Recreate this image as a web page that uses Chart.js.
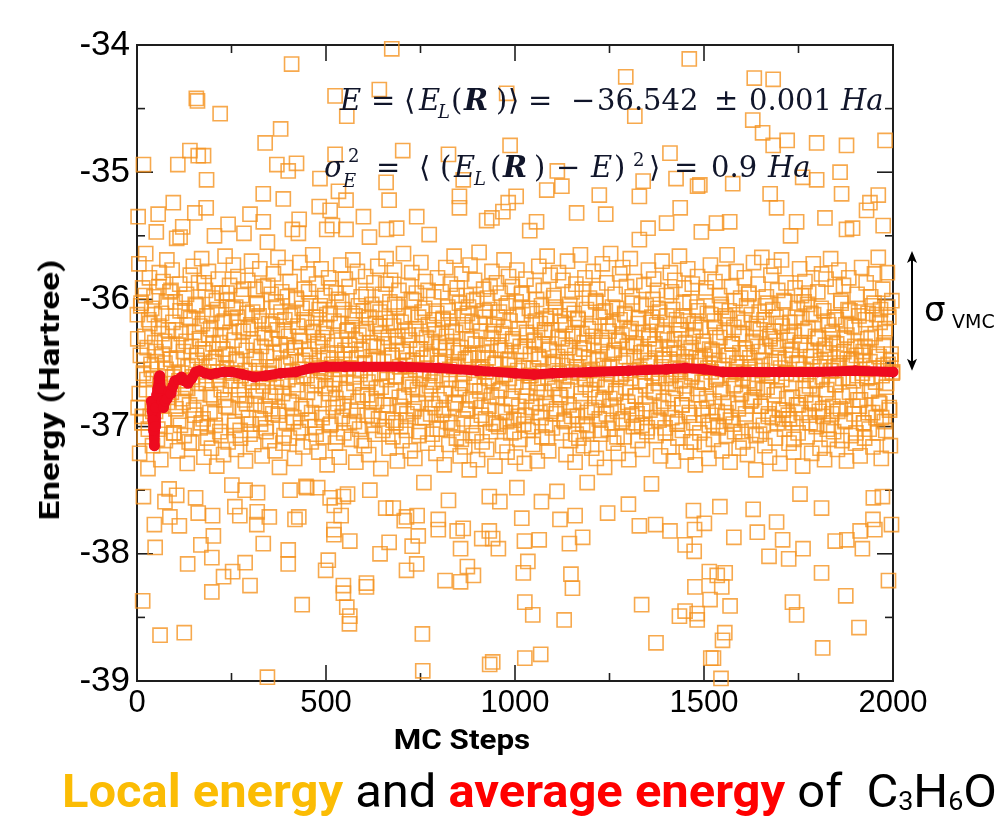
<!DOCTYPE html>
<html>
<head>
<meta charset="utf-8">
<script src="https://cdn.jsdelivr.net/npm/chart.js@4.4.1/dist/chart.umd.min.js"></script>
<style>
body { margin: 0; background: #fff; }
#wrap { position: relative; width: 998px; height: 830px; overflow: hidden; }
#plot { position: absolute; left: 0; top: 0; }
.txt { position: absolute; white-space: pre; line-height: 1; }
.m { position: absolute; white-space: pre; line-height: 1; font-family: "DejaVu Serif", serif; font-size: 29px; color: #10152a; }
.m.s { font-size: 18px; }
.axt { font-family: Roboto, "Noto Sans", sans-serif; font-weight: 700; font-size: 28px; color: #000; }
.cap { font-family: Roboto, "Noto Sans", sans-serif; font-size: 46px; color: #000; transform: scaleX(1.063); transform-origin: left center; }
.cap b { font-weight: 700; }
.cap sub { font-size: 0.55em; vertical-align: -0.12em; }
</style>
</head>
<body>
<div id="wrap">
<canvas id="plot" width="998" height="830"></canvas>

<span class="m" style="left:340px;top:86px"><i>E</i></span>
<span class="m" style="left:371px;top:86px">=</span>
<span class="m" style="left:404px;top:86px">⟨</span>
<span class="m" style="left:419px;top:86px"><i>E</i></span>
<span class="m s" style="left:438px;top:103px"><i>L</i></span>
<span class="m" style="left:451px;top:86px">(</span>
<span class="m" style="left:464px;top:86px"><b><i>R</i></b></span>
<span class="m" style="left:496px;top:86px">)</span>
<span class="m" style="left:508px;top:86px">⟩</span>
<span class="m" style="left:528px;top:86px">=</span>
<span class="m" style="left:571px;top:86px">−</span>
<span class="m" style="left:597px;top:86px">36.542</span>
<span class="m" style="left:714px;top:86px">±</span>
<span class="m" style="left:749px;top:86px">0.001</span>
<span class="m" style="left:841px;top:86px"><i>Ha</i></span>

<span class="m" style="left:324px;top:153px"><i>σ</i></span>
<span class="m s" style="left:348px;top:147px">2</span>
<span class="m s" style="left:343px;top:172px"><i>E</i></span>
<span class="m" style="left:376px;top:153px">=</span>
<span class="m" style="left:419px;top:153px">⟨</span>
<span class="m" style="left:440px;top:153px">(</span>
<span class="m" style="left:454px;top:153px"><i>E</i></span>
<span class="m s" style="left:474px;top:170px"><i>L</i></span>
<span class="m" style="left:490px;top:153px">(</span>
<span class="m" style="left:503px;top:153px"><b><i>R</i></b></span>
<span class="m" style="left:534px;top:153px">)</span>
<span class="m" style="left:556px;top:153px">−</span>
<span class="m" style="left:591px;top:153px"><i>E</i></span>
<span class="m" style="left:614px;top:153px">)</span>
<span class="m s" style="left:633px;top:151px">2</span>
<span class="m" style="left:649px;top:153px">⟩</span>
<span class="m" style="left:674px;top:153px">=</span>
<span class="m" style="left:711px;top:153px">0.9</span>
<span class="m" style="left:768px;top:153px"><i>Ha</i></span>

<div class="txt axt" style="left:462px; top:726px; transform:translateX(-50%) scaleX(1.12);">MC Steps</div>
<div class="txt axt" style="left:50px; top:390px; transform:translate(-50%,-50%) rotate(-90deg) scaleX(1.25);">Energy (Hartree)</div>
<div class="txt" style="left:924px; top:292px; font-family:'DejaVu Sans',sans-serif; font-size:34px;">σ</div>
<div class="txt" style="left:952px; top:312px; font-family:'DejaVu Sans',sans-serif; font-size:19px;">VMC</div>
<div class="txt cap" style="left:62px; top:768px;"><b style="color:#fbbc04">Local energy</b> and <b style="color:#ff0000">average energy</b> of  C<sub>3</sub>H<sub>6</sub>O</div>
</div>
<script>
// outliers: [MC step, local energy]
var outliers = [
	[674,-34.03],[409,-34.15],[157,-34.42],[160,-34.44],[220,-34.54],[641,-34.35],[524,-34.40],[555,-34.56],[380,-34.66],[339,-34.77],
	[140,-34.83],[162,-34.87],[176,-34.87],[17,-34.94],[108,-34.94],[184,-35.06],[370,-34.94],[400,-34.99],[422,-34.93],[524,-34.86],
	[484,-35.05],[703,-34.83],[659,-35.08],[533,-35.15],[553,-35.22],[667,-35.22],[334,-35.17],[387,-35.21],[96,-35.24],[183,-35.28],
	[153,-35.32],[3,-35.35],[56,-35.33],[299,-35.33],[334,-35.39],[241,-35.41],[429,-35.37],[482,-35.27],[511,-35.30],[599,-35.35],
	[740,-35.35],[853,-35.19],[853,-35.28],[824,-34.86],[987,-34.79],[982,-35.24],[925,-35.38],[968,-35.31],[978,-34.38],[863,-35.06],
	[660,-35.45],[687,-35.44],[502,-35.45],[553,-35.45],[427,-35.48],[114,-35.51],[939,-35.36],
	[1461,-34.11],[1293,-34.25],[1633,-34.26],[1683,-34.27],[1317,-34.56],[1629,-34.59],[1655,-34.69],[1683,-34.79],[1720,-34.75],[1798,-34.77],
	[1877,-34.79],[1979,-34.75],[1410,-34.85],[1112,-34.99],[1489,-35.10],[1426,-35.05],[1576,-35.09],[1860,-35.00],[1798,-35.06],[1761,-35.04],
	[1864,-35.17],[1939,-35.24],[1961,-35.18],[1675,-35.17],[1692,-35.28],[1483,-35.11],[1339,-35.07],[1329,-35.19],[1223,-35.18],[1124,-35.11],
	[1084,-35.14],[1003,-35.19],[1163,-35.32],[1240,-35.33],[1437,-35.28],[1533,-35.40],[1568,-35.39],[1745,-35.39],[1820,-35.36],[1930,-35.30],
	[1877,-35.45],[1057,-35.39],[1974,-35.42],[1401,-35.40],[1352,-35.44],
	[345,-38.97],[756,-38.92],[933,-38.87],[941,-38.85],[61,-38.64],[125,-38.62],[755,-38.63],[15,-38.37],[437,-38.40],[563,-38.49],
	[562,-38.55],[555,-38.42],[546,-38.31],[546,-38.25],[607,-38.26],[607,-38.23],[198,-38.30],[299,-38.25],[229,-38.18],[253,-38.14],
	[134,-38.08],[286,-38.07],[198,-38.03],[400,-38.08],[400,-37.97],[506,-38.05],[499,-38.13],[48,-37.95],[169,-37.93],[202,-37.86],
	[334,-37.92],[563,-37.90],[643,-38.00],[667,-37.91],[728,-37.94],[740,-38.08],[713,-38.13],[815,-38.21],[856,-38.22],[890,-38.17],
	[874,-38.10],[856,-37.96],[956,-37.96],[912,-37.88],[941,-37.88],[744,-37.86],[797,-37.81],[863,-37.80],[847,-37.82],[932,-37.82],
	[112,-37.78],[46,-37.77],[87,-37.71],[162,-37.68],[200,-37.70],[272,-37.70],[317,-37.77],[350,-37.71],[418,-37.73],[428,-37.71],
	[540,-37.70],[522,-37.62],[521,-37.81],[521,-37.85],[449,-37.48],[405,-37.50],[286,-37.50],[259,-37.63],[318,-37.67],[74,-37.59],
	[105,-37.54],[17,-37.55],[713,-37.71],[678,-37.64],[658,-37.64],[741,-37.70],[707,-37.74],[797,-37.73],[824,-37.58],[960,-37.59],
	[932,-37.55],[616,-37.50],[546,-37.55],[511,-37.56],[478,-37.48],
	[1545,-38.98],[1525,-38.82],[1518,-38.82],[1026,-38.82],[1068,-38.79],[1373,-38.70],[1549,-38.68],[1555,-38.62],[1814,-38.74],[1910,-38.58],
	[1130,-38.52],[1047,-38.48],[1026,-38.38],[1335,-38.40],[1435,-38.49],[1450,-38.45],[1482,-38.47],[1482,-38.52],[1569,-38.41],[1516,-38.36],
	[1476,-38.26],[1547,-38.26],[1514,-38.14],[1556,-38.15],[1535,-38.17],[1734,-38.38],[1745,-38.48],[1875,-38.33],[1988,-38.21],[1811,-38.15],
	[1148,-38.16],[1152,-38.27],[1022,-38.15],[1034,-38.06],[1025,-37.90],[1064,-37.89],[1144,-37.92],[1179,-37.87],[1119,-37.73],[1159,-37.70],
	[1245,-37.68],[1329,-37.78],[1372,-37.77],[1410,-37.82],[1450,-37.93],[1474,-37.98],[1579,-37.87],[1641,-37.83],[1672,-38.02],[1708,-37.89],
	[1724,-38.04],[1762,-37.96],[1847,-37.90],[1878,-37.89],[1919,-37.96],[1913,-37.82],[1952,-37.81],[1996,-37.77],[1947,-37.73],[1811,-37.64],
	[1692,-37.75],[1630,-37.65],[1501,-37.76],[1475,-37.81],[1472,-37.66],[1542,-37.63],[1300,-37.61],[1070,-37.59],[1018,-37.72],[1005,-37.48],
	[1191,-37.44],[1754,-37.53],[1948,-37.56],[1972,-37.55]
];

// dense band between about -35.5 and -37.5, estimated, one value every 2 steps (steps 1, 3, 5 ...)
var bandEnergy = [
	-36.12,-36.85,-35.72,-37.21,-36.44,-36.03,-36.97,-35.91,-36.58,-37.08,-36.29,-35.64,-36.71,-36.38,-37.33,-36.16,-35.83,-36.92,-36.51,-36.07,
	-37.15,-36.62,-35.98,-36.34,-36.88,-35.47,-36.49,-37.02,-36.21,-35.79,-36.67,-37.26,-36.11,-36.43,-35.86,-36.95,-36.33,-37.11,-36.55,-35.69,
	-36.81,-36.24,-37.49,-35.94,-36.47,-36.73,-35.77,-36.18,-37.05,-36.59,-36.02,-36.86,-35.52,-37.19,-36.36,-36.64,-35.88,-36.99,-36.27,-36.78,
	-35.43,-36.41,-37.07,-36.09,-36.69,-35.96,-37.29,-36.53,-36.14,-36.83,-35.81,-36.37,-37.13,-36.61,-35.74,-36.26,-36.91,-37.56,-36.05,-36.48,
	-36.74,-35.87,-36.31,-37.01,-36.57,-35.68,-36.19,-36.94,-37.24,-36.42,-35.93,-36.66,-36.13,-37.09,-35.78,-36.52,-36.89,-36.23,-37.17,-35.99,
	-36.35,-36.77,-35.50,-36.99,-36.46,-37.31,-36.08,-35.84,-36.63,-37.04,-36.28,-36.71,-35.95,-36.39,-37.22,-36.17,-35.66,-36.84,-36.54,-36.01,
	-37.12,-36.44,-35.89,-36.68,-36.15,-37.46,-36.58,-35.73,-36.32,-36.96,-36.06,-37.18,-36.49,-35.82,-36.75,-36.22,-37.03,-36.60,-35.97,-36.87,
	-36.25,-35.48,-36.79,-37.27,-36.40,-36.11,-35.85,-36.93,-36.56,-37.06,-36.20,-35.70,-36.65,-36.34,-37.14,-36.82,-35.92,-36.47,-36.04,-37.52,
	-36.72,-36.13,-35.76,-36.98,-36.37,-37.23,-36.62,-35.90,-36.27,-36.84,-37.01,-36.45,-35.55,-36.58,-36.19,-37.11,-36.76,-35.96,-36.31,-36.90,
	-35.80,-36.53,-37.19,-36.02,-36.69,-36.24,-35.67,-36.88,-37.32,-36.41,-36.10,-35.94,-36.74,-36.50,-37.07,-36.16,-35.75,-36.97,-36.36,-36.63,
	-36.29,-37.09,-35.86,-36.45,-36.81,-35.45,-36.12,-36.93,-37.25,-36.38,-35.99,-36.67,-36.21,-37.04,-36.55,-35.71,-36.33,-36.86,-36.07,-37.16,
	-36.60,-35.92,-36.44,-37.47,-36.18,-36.73,-35.80,-36.39,-36.95,-36.03,-37.12,-36.52,-35.65,-36.26,-36.79,-37.00,-36.14,-35.88,-36.64,-36.35,
	-37.20,-36.48,-36.05,-35.76,-36.90,-36.30,-37.08,-36.57,-35.97,-36.68,-36.22,-37.30,-36.43,-35.83,-36.74,-36.11,-36.98,-36.51,-35.42,-36.85,
	-36.17,-36.66,-37.13,-35.95,-36.42,-36.82,-36.00,-37.24,-36.59,-35.73,-36.32,-36.92,-36.08,-37.05,-36.47,-35.84,-36.71,-36.25,-37.53,-36.54,
	-35.90,-36.36,-36.87,-37.10,-36.20,-35.69,-36.61,-36.96,-36.13,-37.28,-36.46,-35.78,-36.80,-36.28,-37.02,-36.56,-35.98,-36.40,-36.75,-36.09,
	-37.15,-36.50,-35.82,-36.23,-36.91,-36.65,-37.22,-35.51,-36.34,-36.78,-36.04,-36.99,-36.45,-35.87,-37.06,-36.19,-36.70,-36.37,-35.74,-36.94,
	-36.58,-36.10,-37.33,-36.27,-35.96,-36.83,-36.49,-37.00,-36.15,-35.68,-36.63,-36.89,-36.30,-37.17,-36.02,-35.85,-36.72,-36.44,-37.08,-36.21,
	-35.77,-36.60,-36.97,-36.35,-37.27,-36.06,-35.93,-36.53,-36.84,-36.18,-37.11,-36.41,-35.64,-36.76,-36.25,-36.95,-37.03,-36.48,-35.89,-36.67,
	-36.32,-37.19,-36.12,-35.79,-36.69,-36.88,-36.01,-37.25,-36.55,-35.95,-36.39,-36.81,-36.14,-37.04,-36.62,-35.71,-36.28,-36.93,-36.46,-37.44,
	-36.07,-35.86,-36.74,-36.43,-37.13,-36.20,-35.49,-36.58,-36.90,-36.33,-37.06,-36.65,-35.98,-36.24,-36.85,-37.21,-36.11,-35.83,-36.50,-36.79,
	-36.37,-37.02,-35.94,-36.63,-36.16,-36.87,-37.30,-36.45,-35.75,-36.29,-36.96,-36.09,-37.14,-36.55,-35.88,-36.70,-36.22,-37.01,-36.40,-35.66,
	-36.82,-36.26,-37.09,-35.91,-36.52,-36.75,-36.03,-37.23,-36.38,-35.80,-36.66,-36.94,-36.13,-37.16,-36.47,-35.97,-36.31,-36.86,-36.06,-37.34,
	-35.73,-36.44,-36.99,-36.18,-37.07,-36.61,-35.85,-36.35,-36.80,-36.00,-37.26,-36.53,-35.63,-36.72,-36.25,-36.91,-37.12,-36.42,-35.92,-36.68,
	-36.14,-36.57,-37.18,-35.99,-36.46,-36.84,-36.08,-37.04,-36.30,-35.78,-36.64,-36.97,-36.20,-37.31,-36.50,-35.87,-36.77,-36.36,-37.00,-36.10,
	-35.95,-36.71,-36.27,-37.15,-36.59,-35.69,-36.40,-36.89,-36.05,-37.20,-36.48,-35.82,-36.62,-36.17,-37.05,-36.83,-35.90,-36.33,-36.95,-36.52,
	-37.24,-36.02,-35.77,-36.56,-36.92,-36.23,-37.10,-36.41,-35.96,-36.69,-36.12,-36.98,-37.29,-36.37,-35.84,-36.76,-36.28,-37.03,-36.60,-35.46,
	-36.43,-36.85,-36.09,-37.14,-36.54,-35.89,-36.32,-36.81,-36.00,-37.27,-36.66,-35.74,-36.47,-36.19,-36.93,-37.08,-36.35,-35.93,-36.73,-36.26,
	-36.99,-36.15,-35.66,-36.61,-37.19,-36.39,-35.81,-36.88,-36.24,-37.01,-36.51,-35.97,-36.70,-36.06,-36.90,-37.51,-36.45,-35.79,-36.58,-36.13,
	-36.77,-37.05,-36.31,-35.85,-36.64,-36.96,-36.20,-37.22,-36.49,-35.70,-36.38,-36.83,-36.04,-37.11,-36.57,-35.94,-36.29,-36.87,-36.11,-37.28,
	-35.88,-36.53,-36.92,-36.16,-37.09,-36.42,-35.65,-36.74,-36.27,-36.98,-37.15,-36.34,-35.83,-36.62,-36.08,-36.89,-37.03,-36.46,-35.99,-36.71,
	-36.21,-37.17,-36.55,-35.78,-36.36,-36.85,-36.01,-37.25,-36.63,-35.92,-36.47,-36.94,-36.14,-37.06,-36.30,-35.72,-36.79,-36.52,-37.32,-36.09,
	-36.67,-35.87,-36.43,-37.02,-36.25,-36.78,-35.64,-36.59,-36.97,-36.19,-37.13,-36.40,-35.96,-36.72,-36.07,-36.88,-37.21,-36.33,-35.80,-36.61,
	-36.96,-36.28,-35.75,-36.50,-37.08,-36.12,-36.69,-35.90,-36.37,-36.84,-37.26,-36.56,-35.68,-36.23,-36.91,-36.03,-37.00,-36.45,-35.86,-36.76,
	-36.35,-36.90,-37.11,-36.15,-35.53,-36.64,-36.42,-36.99,-37.18,-36.26,-35.89,-36.57,-36.82,-36.05,-37.04,-36.48,-35.77,-36.31,-36.87,-36.18,
	-37.45,-36.58,-36.00,-35.84,-36.73,-36.39,-37.07,-36.20,-35.93,-36.66,-36.95,-36.10,-37.23,-36.53,-35.70,-36.44,-36.80,-36.27,-37.01,-36.62,
	-35.97,-36.32,-36.86,-37.16,-36.47,-35.79,-36.60,-36.93,-36.08,-37.27,-36.38,-35.85,-36.70,-36.16,-36.98,-37.09,-36.43,-35.66,-36.55,-36.24,
	-36.83,-37.03,-36.13,-35.91,-36.68,-36.34,-37.20,-36.50,-35.76,-36.41,-36.89,-36.02,-37.12,-36.61,-35.88,-36.29,-36.97,-36.19,-37.30,-36.46,
	-36.06,-35.82,-36.75,-36.52,-37.05,-36.22,-35.47,-36.65,-36.91,-36.36,-37.14,-36.45,-35.94,-36.78,-36.11,-36.85,-37.25,-36.39,-35.73,-36.57,
	-36.40,-36.96,-37.10,-36.17,-35.86,-36.63,-36.30,-36.88,-37.01,-36.48,-35.97,-36.71,-36.04,-37.19,-36.55,-35.79,-36.26,-36.92,-36.13,-37.07,
	-35.65,-36.44,-36.81,-36.09,-37.28,-36.59,-35.90,-36.35,-36.98,-36.22,-37.04,-36.67,-35.78,-36.50,-36.15,-36.86,-37.17,-36.42,-35.99,-36.74,
	-36.27,-37.12,-36.58,-35.83,-36.39,-36.95,-36.05,-37.22,-36.64,-35.95,-36.46,-36.80,-36.12,-37.03,-36.33,-35.71,-36.77,-36.53,-37.34,-36.19,
	-36.70,-35.88,-36.41,-37.06,-36.24,-36.84,-35.67,-36.56,-36.99,-36.16,-37.15,-36.37,-35.98,-36.69,-36.03,-36.90,-37.24,-36.31,-35.81,-36.60,
	-36.93,-36.25,-35.74,-36.49,-37.09,-36.14,-36.72,-35.93,-36.38,-36.87,-37.29,-36.54,-35.69,-36.21,-36.94,-36.01,-37.02,-36.47,-35.87,-36.78,
	-36.32,-36.91,-37.13,-36.18,-35.50,-36.66,-36.44,-36.97,-37.20,-36.28,-35.91,-36.59,-36.83,-36.07,-37.05,-36.50,-35.76,-36.34,-36.89,-36.15,
	-37.31,-36.55,-36.02,-35.86,-36.75,-36.40,-37.08,-36.23,-35.95,-36.68,-36.97,-36.11,-37.21,-36.51,-35.72,-36.45,-36.82,-36.29,-37.00,-36.63,
	-35.94,-36.30,-36.88,-37.17,-36.48,-35.80,-36.61,-36.92,-36.09,-37.26,-36.36,-35.84,-36.71,-36.17,-36.99,-37.10,-36.42,-35.68,-36.56,-36.26,
	-36.84,-37.04,-36.14,-35.90,-36.67,-36.35,-37.18,-36.52,-35.77,-36.43,-36.86,-36.03,-37.11,-36.62,-35.89,-36.30,-36.96,-36.20,-37.27,-36.47,
	-36.08,-35.83,-36.73,-36.50,-37.07,-36.21,-35.44,-36.64,-36.90,-36.37,-37.13,-36.44,-35.96,-36.79,-36.10,-36.84,-37.23,-36.38,-35.75,-36.58,
	-36.41,-36.97,-37.09,-36.16,-35.87,-36.62,-36.31,-36.89,-37.02,-36.49,-35.98,-36.72,-36.05,-37.16,-36.54,-35.80,-36.27,-36.93,-36.12,-37.05,
	-35.67,-36.45,-36.82,-36.08,-37.25,-36.60,-35.92,-36.36,-36.96,-36.23,-37.03,-36.66,-35.79,-36.51,-36.14,-36.87,-37.15,-36.43,-36.01,-36.57
];

// the thickest part of the band, estimated, one value every 4 steps (steps 2, 6, 10 ...)
var coreEnergy = [
	-36.31,-36.74,-36.05,-36.92,-36.48,-35.97,-36.63,-37.02,-36.19,-36.55,-36.88,-36.12,-36.41,-37.10,-35.90,-36.69,-36.27,-36.83,-36.50,-36.02,
	-36.77,-36.36,-35.93,-36.61,-37.05,-36.24,-36.46,-36.95,-36.09,-36.58,-36.81,-35.99,-36.33,-36.70,-37.12,-36.15,-36.52,-36.87,-36.04,-36.44,
	-36.66,-36.21,-36.97,-36.39,-35.87,-36.60,-37.00,-36.28,-36.75,-36.11,-36.49,-36.90,-36.01,-36.57,-36.34,-37.07,-36.18,-36.79,-36.43,-35.95,
	-36.85,-36.26,-36.64,-36.07,-36.99,-36.47,-36.14,-36.71,-37.09,-36.37,-35.92,-36.56,-36.82,-36.23,-36.62,-36.98,-36.10,-36.45,-36.76,-36.03,
	-36.53,-36.94,-36.17,-36.68,-36.30,-37.04,-35.89,-36.59,-36.86,-36.20,-36.42,-36.73,-36.06,-36.91,-36.35,-36.65,-37.13,-36.25,-36.51,-35.98,
	-36.80,-36.13,-36.57,-36.96,-36.38,-36.00,-36.72,-36.29,-37.01,-36.48,-36.16,-36.84,-36.60,-35.94,-36.44,-36.89,-36.22,-36.67,-37.06,-36.33,
	-36.08,-36.54,-36.93,-36.27,-36.70,-36.12,-36.46,-36.99,-35.91,-36.63,-36.36,-36.78,-37.08,-36.19,-36.55,-36.02,-36.84,-36.40,-36.73,-36.24,
	-36.97,-36.43,-36.11,-36.66,-36.32,-36.88,-36.05,-36.59,-37.11,-36.26,-36.50,-35.96,-36.75,-36.14,-36.62,-36.92,-36.37,-36.08,-36.80,-36.47,
	-36.21,-36.69,-37.03,-36.35,-35.88,-36.57,-36.83,-36.18,-36.44,-36.95,-36.04,-36.61,-36.29,-36.77,-37.00,-36.41,-36.13,-36.52,-36.90,-36.28,
	-36.64,-36.00,-36.48,-36.86,-36.23,-36.71,-37.07,-36.39,-36.10,-36.56,-36.93,-36.30,-35.93,-36.68,-36.45,-36.82,-36.16,-36.60,-37.02,-36.34,
	-36.50,-36.90,-36.15,-36.74,-36.38,-36.06,-36.63,-36.97,-36.25,-36.53,-36.81,-35.97,-36.42,-36.70,-37.10,-36.20,-36.58,-36.87,-36.11,-36.46,
	-36.79,-36.32,-36.01,-36.67,-37.05,-36.43,-36.19,-36.85,-36.55,-36.09,-36.94,-36.36,-36.62,-35.90,-36.76,-36.27,-36.51,-36.98,-36.14,-36.72,
	-36.40,-36.88,-36.22,-36.59,-36.96,-36.03,-36.47,-36.78,-36.31,-37.04,-36.65,-36.12,-36.84,-36.37,-35.95,-36.54,-36.91,-36.26,-36.69,-36.07,
	-36.60,-37.00,-36.33,-36.17,-36.73,-36.45,-36.89,-36.05,-36.57,-36.24,-36.82,-37.09,-36.40,-36.13,-36.66,-35.99,-36.49,-36.86,-36.30,-36.75,
	-36.18,-36.52,-36.95,-36.36,-36.71,-36.08,-36.61,-36.92,-36.27,-36.44,-37.06,-36.15,-36.58,-36.80,-35.92,-36.39,-36.67,-36.99,-36.23,-36.56,
	-36.87,-36.29,-36.63,-36.02,-36.48,-36.77,-37.03,-36.34,-36.10,-36.69,-36.90,-36.21,-36.53,-36.84,-36.06,-36.42,-36.74,-37.08,-36.32,-36.16,
	-36.59,-36.94,-36.11,-36.45,-36.81,-36.25,-36.62,-35.98,-36.37,-36.76,-36.97,-36.19,-36.55,-36.04,-36.88,-36.41,-36.68,-37.01,-36.28,-36.50,
	-36.14,-36.72,-36.35,-36.93,-36.07,-36.60,-36.85,-36.26,-36.47,-37.05,-36.13,-36.66,-36.39,-35.94,-36.78,-36.31,-36.57,-36.96,-36.20,-36.64,
	-36.83,-36.03,-36.49,-36.74,-36.17,-36.91,-36.38,-36.58,-37.12,-36.24,-36.70,-36.09,-36.46,-36.86,-36.33,-36.65,-35.91,-36.54,-36.99,-36.12,
	-36.43,-36.80,-36.22,-36.61,-37.00,-36.30,-36.06,-36.73,-36.52,-36.89,-36.15,-36.44,-36.95,-36.35,-36.68,-36.01,-36.57,-36.82,-36.27,-37.04,
	-36.62,-36.18,-36.90,-36.42,-35.96,-36.55,-36.79,-36.23,-36.66,-37.07,-36.37,-36.10,-36.84,-36.48,-36.71,-36.05,-36.60,-36.92,-36.29,-36.51,
	-36.08,-36.75,-36.33,-36.97,-36.46,-36.19,-36.63,-36.87,-36.02,-36.58,-36.26,-36.94,-36.40,-36.77,-37.10,-36.14,-36.50,-36.83,-36.36,-35.97,
	-36.70,-36.25,-36.59,-36.04,-36.91,-36.45,-36.81,-36.12,-36.64,-36.98,-36.31,-36.53,-36.07,-36.86,-36.39,-36.74,-37.02,-36.20,-36.56,-36.90,
	-36.34,-36.67,-36.16,-36.88,-36.50,-36.01,-36.76,-36.41,-36.95,-36.28,-36.62,-36.09,-36.47,-36.84,-36.22,-37.05,-36.60,-36.13,-36.79,-36.44,
	-36.97,-36.37,-36.55,-36.11,-36.72,-36.30,-36.89,-36.03,-36.65,-36.43,-36.81,-36.18,-36.93,-36.52,-36.26,-36.69,-36.06,-36.85,-36.48,-36.58
];

// running average (red)
var avgSteps = [38,40,42,44,46,48,50,52,55,58,60,63,66,70,75,80,85,90,95,100,110,118,125,135,145,155,165,180,195,210,230,250,280,310,340,380,420,460,500,550,600,700,800,900,1000,1050,1100,1200,1300,1400,1450,1500,1550,1600,1700,1800,1900,2000];
var avgEnergy = [-36.80,-36.88,-36.95,-37.03,-37.15,-37.00,-36.85,-36.75,-36.70,-36.62,-36.60,-36.70,-36.80,-36.85,-36.80,-36.78,-36.72,-36.74,-36.68,-36.64,-36.63,-36.61,-36.64,-36.66,-36.62,-36.57,-36.56,-36.58,-36.59,-36.58,-36.57,-36.57,-36.59,-36.61,-36.60,-36.58,-36.57,-36.54,-36.53,-36.53,-36.53,-36.53,-36.54,-36.56,-36.58,-36.59,-36.58,-36.57,-36.56,-36.55,-36.54,-36.55,-36.57,-36.57,-36.57,-36.57,-36.56,-36.57];

var xTicks = [0, 500, 1000, 1500, 2000];
var yTicks = [-39, -38, -37, -36, -35, -34];
var sigmaRange = [-36.56, -35.62];

var localPoints = [];
for (var i = 0; i < outliers.length; i++) {
	localPoints.push({ x: outliers[i][0], y: outliers[i][1] });
}
for (var i = 0; i < bandEnergy.length; i++) {
	localPoints.push({ x: 2 * i + 1, y: bandEnergy[i] });
}
for (var i = 0; i < coreEnergy.length; i++) {
	localPoints.push({ x: 4 * i + 2, y: coreEnergy[i] });
}
var avgPoints = [];
for (var i = 0; i < avgSteps.length; i++) {
	avgPoints.push({ x: avgSteps[i], y: avgEnergy[i] });
}

function line(ctx, x1, y1, x2, y2) {
	ctx.beginPath();
	ctx.moveTo(x1, y1);
	ctx.lineTo(x2, y2);
	ctx.stroke();
}

// box, inward ticks on all four sides (minor ticks halfway)
var frameTicks = {
	id: 'frameTicks',
	beforeDatasetsDraw: function(chart) {
		var ctx = chart.ctx, a = chart.chartArea;
		var xs = chart.scales.x, ys = chart.scales.y;
		ctx.save();
		ctx.strokeStyle = '#1e1e1e';
		ctx.lineWidth = 2;
		ctx.strokeRect(a.left, a.top, a.right - a.left, a.bottom - a.top);
		ctx.lineWidth = 1.6;
		for (var v = 0; v <= 2000; v += 250) {
			var px = xs.getPixelForValue(v);
			var len = (v % 500 == 0) ? 16 : 8;
			line(ctx, px, a.bottom, px, a.bottom - len);
			line(ctx, px, a.top, px, a.top + len);
		}
		for (var v = -39; v <= -34; v += 0.5) {
			var py = ys.getPixelForValue(v);
			var len = (v % 1 == 0) ? 16 : 8;
			line(ctx, a.left, py, a.left + len, py);
			line(ctx, a.right, py, a.right - len, py);
		}
		ctx.restore();
	},
	afterDraw: function(chart) {
		var ctx = chart.ctx, a = chart.chartArea, ys = chart.scales.y;
		var x = a.right + 19;
		var yb = ys.getPixelForValue(sigmaRange[0]);
		var yt = ys.getPixelForValue(sigmaRange[1]);
		ctx.save();
		ctx.strokeStyle = '#000';
		ctx.fillStyle = '#000';
		ctx.lineWidth = 2;
		line(ctx, x, yt + 4, x, yb - 4);
		ctx.beginPath();
		ctx.moveTo(x, yt); ctx.lineTo(x - 5, yt + 12); ctx.lineTo(x, yt + 9); ctx.lineTo(x + 5, yt + 12);
		ctx.closePath(); ctx.fill();
		ctx.beginPath();
		ctx.moveTo(x, yb); ctx.lineTo(x - 5, yb - 12); ctx.lineTo(x, yb - 9); ctx.lineTo(x + 5, yb - 12);
		ctx.closePath(); ctx.fill();
		ctx.restore();
	}
};

var ctx = document.getElementById('plot').getContext('2d');
var chart = new Chart(ctx, {
	type: 'scatter',
	data: {
		datasets: [
			{
				label: 'average energy',
				data: avgPoints,
				showLine: true,
				borderColor: '#ee0a1f',
				backgroundColor: '#ee0a1f',
				borderWidth: 10,
				borderCapStyle: 'round',
				borderJoinStyle: 'round',
				pointRadius: 5.5,
				pointBorderWidth: 0,
				clip: false
			},
			{
				label: 'local energy',
				data: localPoints,
				pointStyle: 'rect',
				pointRadius: 10,
				borderWidth: 1.6,
				borderColor: 'rgba(245,148,32,0.8)',
				backgroundColor: 'rgba(0,0,0,0)',
				clip: false
			}
		]
	},
	options: {
		responsive: false,
		animation: false,
		devicePixelRatio: 1,
		events: [],
		layout: { padding: { left: 0, top: 45, right: 105, bottom: 89 } },
		plugins: { legend: { display: false }, tooltip: { enabled: false } },
		scales: {
			x: {
				type: 'linear', min: 0, max: 2000,
				afterBuildTicks: function(s) { s.ticks = xTicks.map(function(v) { return { value: v }; }); },
				afterFit: function(s) { s.height = 60; },
				grid: { display: false, drawTicks: false },
				border: { display: false },
				ticks: { color: '#000', padding: 4, font: { family: 'Liberation Sans', size: 31 }, callback: function(v) { return String(v); } }
			},
			y: {
				min: -39, max: -34,
				afterBuildTicks: function(s) { s.ticks = yTicks.map(function(v) { return { value: v }; }); },
				afterFit: function(s) { s.width = 137; },
				grid: { display: false, drawTicks: false },
				border: { display: false },
				ticks: { color: '#000', padding: 7, font: { family: 'Liberation Sans', size: 35 } }
			}
		}
	},
	plugins: [frameTicks]
});
</script>
</body>
</html>
